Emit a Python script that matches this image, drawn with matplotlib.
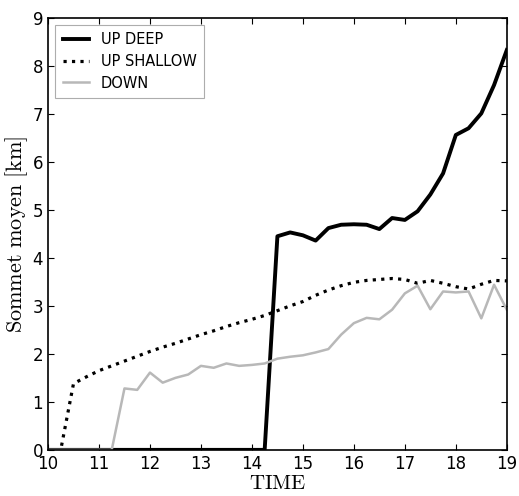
from matplotlib import pyplot as plt
import numpy as np

# Time axis (0.25 step)
time = np.arange(10.0, 19.01, 0.25)

# UP DEEP mean top height [km]
up_deep = [0, 0, 0, 0, 0, 0, 0, 0, 0, 0, 0, 0, 0, 0, 0, 0, 0, 0,
           4.45, 4.53, 4.47, 4.36, 4.62, 4.69, 4.70, 4.69, 4.60, 4.83,
           4.79, 4.97, 5.32, 5.76, 6.56, 6.70, 7.01, 7.60, 8.33]

# UP SHALLOW mean top height [km]
up_shallow = [0, 0, 1.38, 1.52, 1.65, 1.75, 1.85, 1.95, 2.05, 2.14,
              2.22, 2.31, 2.40, 2.48, 2.57, 2.65, 2.72, 2.80, 2.90,
              3.00, 3.09, 3.22, 3.33, 3.42, 3.49, 3.53, 3.55, 3.57,
              3.55, 3.47, 3.53, 3.47, 3.40, 3.35, 3.45, 3.53, 3.52]

# DOWN mean top height [km]
down = [0, 0, 0, 0, 0, 0, 1.28, 1.25, 1.61, 1.40, 1.50, 1.57, 1.75,
        1.71, 1.80, 1.75, 1.77, 1.80, 1.90, 1.94, 1.97, 2.03, 2.10,
        2.40, 2.64, 2.75, 2.72, 2.92, 3.26, 3.42, 2.93, 3.30, 3.28,
        3.30, 2.74, 3.44, 2.92]

plt.rcParams['mathtext.fontset'] = 'cm'
plt.rcParams['xtick.direction'] = 'in'
plt.rcParams['ytick.direction'] = 'in'
plt.rcParams['xtick.top'] = True
plt.rcParams['ytick.right'] = True

fig = plt.figure(figsize=(5.19, 4.96), dpi=100)
ax = fig.add_axes([0.0925, 0.093, 0.884, 0.871])

ax.plot(time, up_deep, color='black', lw=2.8, label='UP DEEP')
ax.plot(time, up_shallow, color='black', lw=2.3, ls=':', label='UP SHALLOW')
ax.plot(time, down, color='0.72', lw=1.8, label='DOWN')

ax.set_xlim(10, 19)
ax.set_ylim(0, 9)
ax.set_xticks(np.arange(10, 20, 1))
ax.set_yticks(np.arange(0, 10, 1))
ax.tick_params(labelsize=12, length=4, width=0.8)
for s in ax.spines.values():
    s.set_linewidth(1.2)

ax.set_xlabel(r'$\mathrm{TIME}$', fontsize=15, labelpad=0)
ax.set_ylabel(r'$\mathrm{Sommet\ moyen\ [km]}$', fontsize=16, labelpad=2)

leg = ax.legend(loc='upper left', fontsize=10.5, frameon=True, fancybox=False,
                handlelength=1.8, borderpad=0.5, labelspacing=0.45)
leg.get_frame().set_edgecolor('0.6')
leg.get_frame().set_linewidth(0.8)

fig.savefig('out.png', dpi=100)
